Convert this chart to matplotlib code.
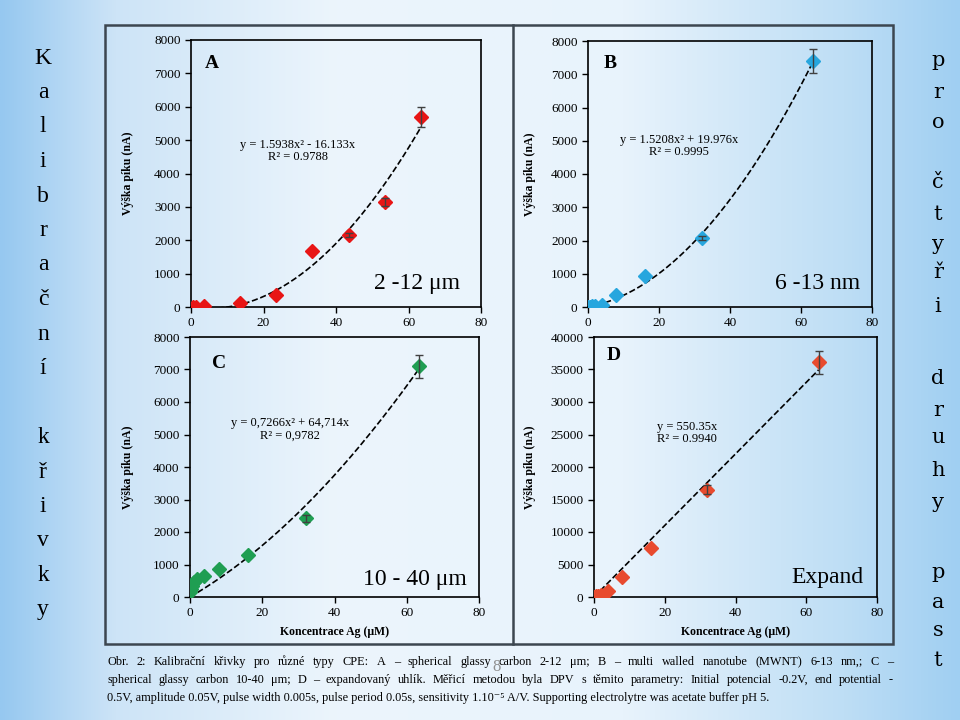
import numpy as np
import matplotlib.pyplot as plt
from matplotlib.patches import Rectangle
from matplotlib.lines import Line2D

serif = ['Liberation Serif', 'DejaVu Serif']
plt.rcParams['font.family'] = serif

# data
conc_a = [0.5, 1.5, 3.5, 13.5, 23.5, 33.5, 43.5, 53.5, 63.5]
peak_a = [0, 0, 30, 130, 360, 1680, 2160, 3140, 5700]
err_a = [0, 0, 0, 0, 0, 0, 60, 120, 300]

conc_b = [0, 0.5, 1, 2, 4, 8, 16, 32, 63.5]
peak_b = [0, 10, 20, 40, 70, 370, 920, 2070, 7400]
err_b = [0, 0, 0, 0, 0, 0, 0, 60, 360]

conc_c = [0, 0.25, 0.5, 1, 2, 4, 8, 16, 32, 63.5]
peak_c = [160, 250, 350, 450, 560, 650, 850, 1300, 2420, 7100]
err_c = [0, 0, 0, 0, 0, 0, 0, 0, 100, 360]

conc_d = [0, 0.5, 1, 2, 4, 8, 16, 32, 63.5]
peak_d = [0, 80, 150, 260, 870, 3080, 7600, 16500, 36100]
err_d = [0, 0, 0, 0, 0, 0, 0, 700, 1750]

fit_a = [1.5938, -16.133, 0]
fit_b = [1.5208, 19.976, 0]
fit_c = [0.7266, 64.714, 0]
fit_d = [550.35, 0]


def fx(x):
    return x / 960


def fy(y):
    return 1 - y / 720


fig = plt.figure(figsize=(9.6, 7.2), dpi=100)

# slide background
bg = fig.add_axes([0, 0, 1, 1], zorder=-10)
bg.axis('off')
stops = [0, 0.12, 0.35, 0.65, 0.88, 1]
cols = np.array([[150, 200, 240], [205, 228, 247], [236, 245, 252],
                 [232, 243, 252], [190, 222, 245], [160, 207, 242]]) / 255
xs = np.linspace(0, 1, 400)
row = np.stack([np.interp(xs, stops, cols[:, k]) for k in range(3)], axis=1)
img = np.repeat(row[None, :, :], 50, axis=0)
bg.imshow(img, aspect='auto', extent=[0, 1, 0, 1])
bg.set_xlim(0, 1)
bg.set_ylim(0, 1)

# frame
fig.patches.append(Rectangle((fx(105), fy(644)), fx(893) - fx(105), fy(25) - fy(644),
                             transform=fig.transFigure, fill=False,
                             edgecolor='#3c4650', linewidth=1.8))
fig.lines.append(Line2D([fx(513), fx(513)], [fy(644), fy(25)], transform=fig.transFigure,
                        color='#3c4650', linewidth=1.8))


def panel(box, x, y, err, color, fit, ymax, ystep, letter, letter_xy, eq, eq_xy, eq_ha,
          tag, tag_xy, ylab_x, xlab):
    left, top, right, bottom = box
    ax = fig.add_axes([fx(left), fy(bottom), fx(right) - fx(left), fy(top) - fy(bottom)])
    ax.set_facecolor('none')
    xfit = np.linspace(0, max(x), 200)
    ax.plot(xfit, np.polyval(fit, xfit), '--', color='black', linewidth=1.2, zorder=2)
    ax.plot(x, y, 'D', color=color, markersize=7.5, zorder=3)
    x = np.array(x)
    y = np.array(y)
    err = np.array(err)
    m = err > 0
    ax.errorbar(x[m], y[m], yerr=err[m], fmt='none', ecolor='#404040',
                elinewidth=1, capsize=3, zorder=4)
    ax.set_xlim(0, 80)
    ax.set_ylim(0, ymax)
    ax.set_xticks(range(0, 81, 20))
    ax.set_yticks(np.arange(0, ymax + 1, ystep))
    ax.tick_params(direction='out', length=4, width=1, labelsize=9.5)
    for s in ax.spines.values():
        s.set_linewidth(1.2)
    fig.text(fx(letter_xy[0]), fy(letter_xy[1]), letter, fontsize=14, fontweight='bold',
             ha='center', va='center')
    fig.text(fx(eq_xy[0]), fy(eq_xy[1]), eq, fontsize=9, ha=eq_ha, va='center',
             linespacing=1.1)
    fig.text(fx(tag_xy[0]), fy(tag_xy[1]), tag, fontsize=17, ha='center', va='center')
    fig.text(fx(ylab_x), fy((top + bottom) / 2), 'Výška píku (nA)', fontsize=8.5,
             fontweight='bold', rotation=90, ha='center', va='center')
    if xlab:
        fig.text(fx((left + right) / 2), fy(632), 'Koncentrace Ag (μM)', fontsize=8.5,
                 fontweight='bold', ha='center', va='center')
    return ax


panel((191, 40, 481, 307), conc_a, peak_a, err_a, '#e81515', fit_a, 8000, 1000,
      'A', (212, 63), 'y = 1.5938x² - 16.133x\nR² = 0.9788', (298, 151), 'center',
      '2 -12 μm', (417, 284), 128, False)
panel((588, 41, 872, 307), conc_b, peak_b, err_b, '#27a6de', fit_b, 8000, 1000,
      'B', (610, 63), 'y = 1.5208x² + 19.976x\nR² = 0.9995', (679, 146), 'center',
      '6 -13 nm', (818, 284), 530, False)
panel((190, 337, 479, 597), conc_c, peak_c, err_c, '#1f9e52', fit_c, 8000, 1000,
      'C', (219, 364), 'y = 0,7266x² + 64,714x\nR² = 0,9782', (290, 429), 'center',
      '10 - 40 μm', (415, 580), 128, True)
panel((594, 337, 877, 597), conc_d, peak_d, err_d, '#e84a2e', fit_d, 40000, 5000,
      'D', (614, 355), 'y = 550.35x\nR² = 0.9940', (657, 433), 'left',
      'Expand', (827, 578), 530, True)

# side captions
left_col = 'Kalibrační křivky'
y0 = 58
for i, ch in enumerate(left_col):
    if ch != ' ':
        fig.text(fx(43), fy(y0 + i * 34.5), ch, fontsize=17, ha='center', va='center')

right_col = 'pro čtyři druhy past'
right_y = [60, 92, 122, None, 183, 214, 244, 272, 306, None, 378, 410, 438, 470, 503,
           None, 572, 602, 631, 660]
for ch, yy in zip(right_col, right_y):
    if yy is not None:
        fig.text(fx(938), fy(yy), ch, fontsize=15, ha='center', va='center',
                 family=['DejaVu Serif'])

caption = [
    'Obr. 2: Kalibrační křivky pro různé typy CPE: A – spherical glassy carbon 2-12 μm; '
    'B – multi walled nanotube  (MWNT) 6-13 nm,; C –',
    'spherical glassy carbon 10-40 μm; D – expandovaný uhlík. Měřicí metodou byla DPV '
    's těmito parametry: Initial potencial -0.2V, end potential -',
    '0.5V, amplitude 0.05V, pulse width 0.005s, pulse period 0.05s, sensitivity 1.10⁻⁵ A/V. '
    'Supporting electrolytre was acetate buffer pH 5.',
]
cap_left, cap_right = 107, 893
renderer = fig.canvas.get_renderer()
for i, line in enumerate(caption):
    yy = fy(662 + i * 18)
    if i == len(caption) - 1:
        fig.text(fx(cap_left), yy, line, fontsize=8.8, ha='left', va='center')
        continue
    # justified line: place words one by one
    words = line.split()
    texts = [fig.text(0, yy, w, fontsize=8.8, ha='left', va='center') for w in words]
    widths = [t.get_window_extent(renderer).width for t in texts]
    gap = (cap_right - cap_left - sum(widths)) / (len(words) - 1)
    xpos = cap_left
    for t, w in zip(texts, widths):
        t.set_x(fx(xpos))
        xpos += w + gap
fig.text(fx(497), fy(667), '8', fontsize=12, color='#909090', ha='center', va='center')

fig.savefig('out.png', dpi=100)
